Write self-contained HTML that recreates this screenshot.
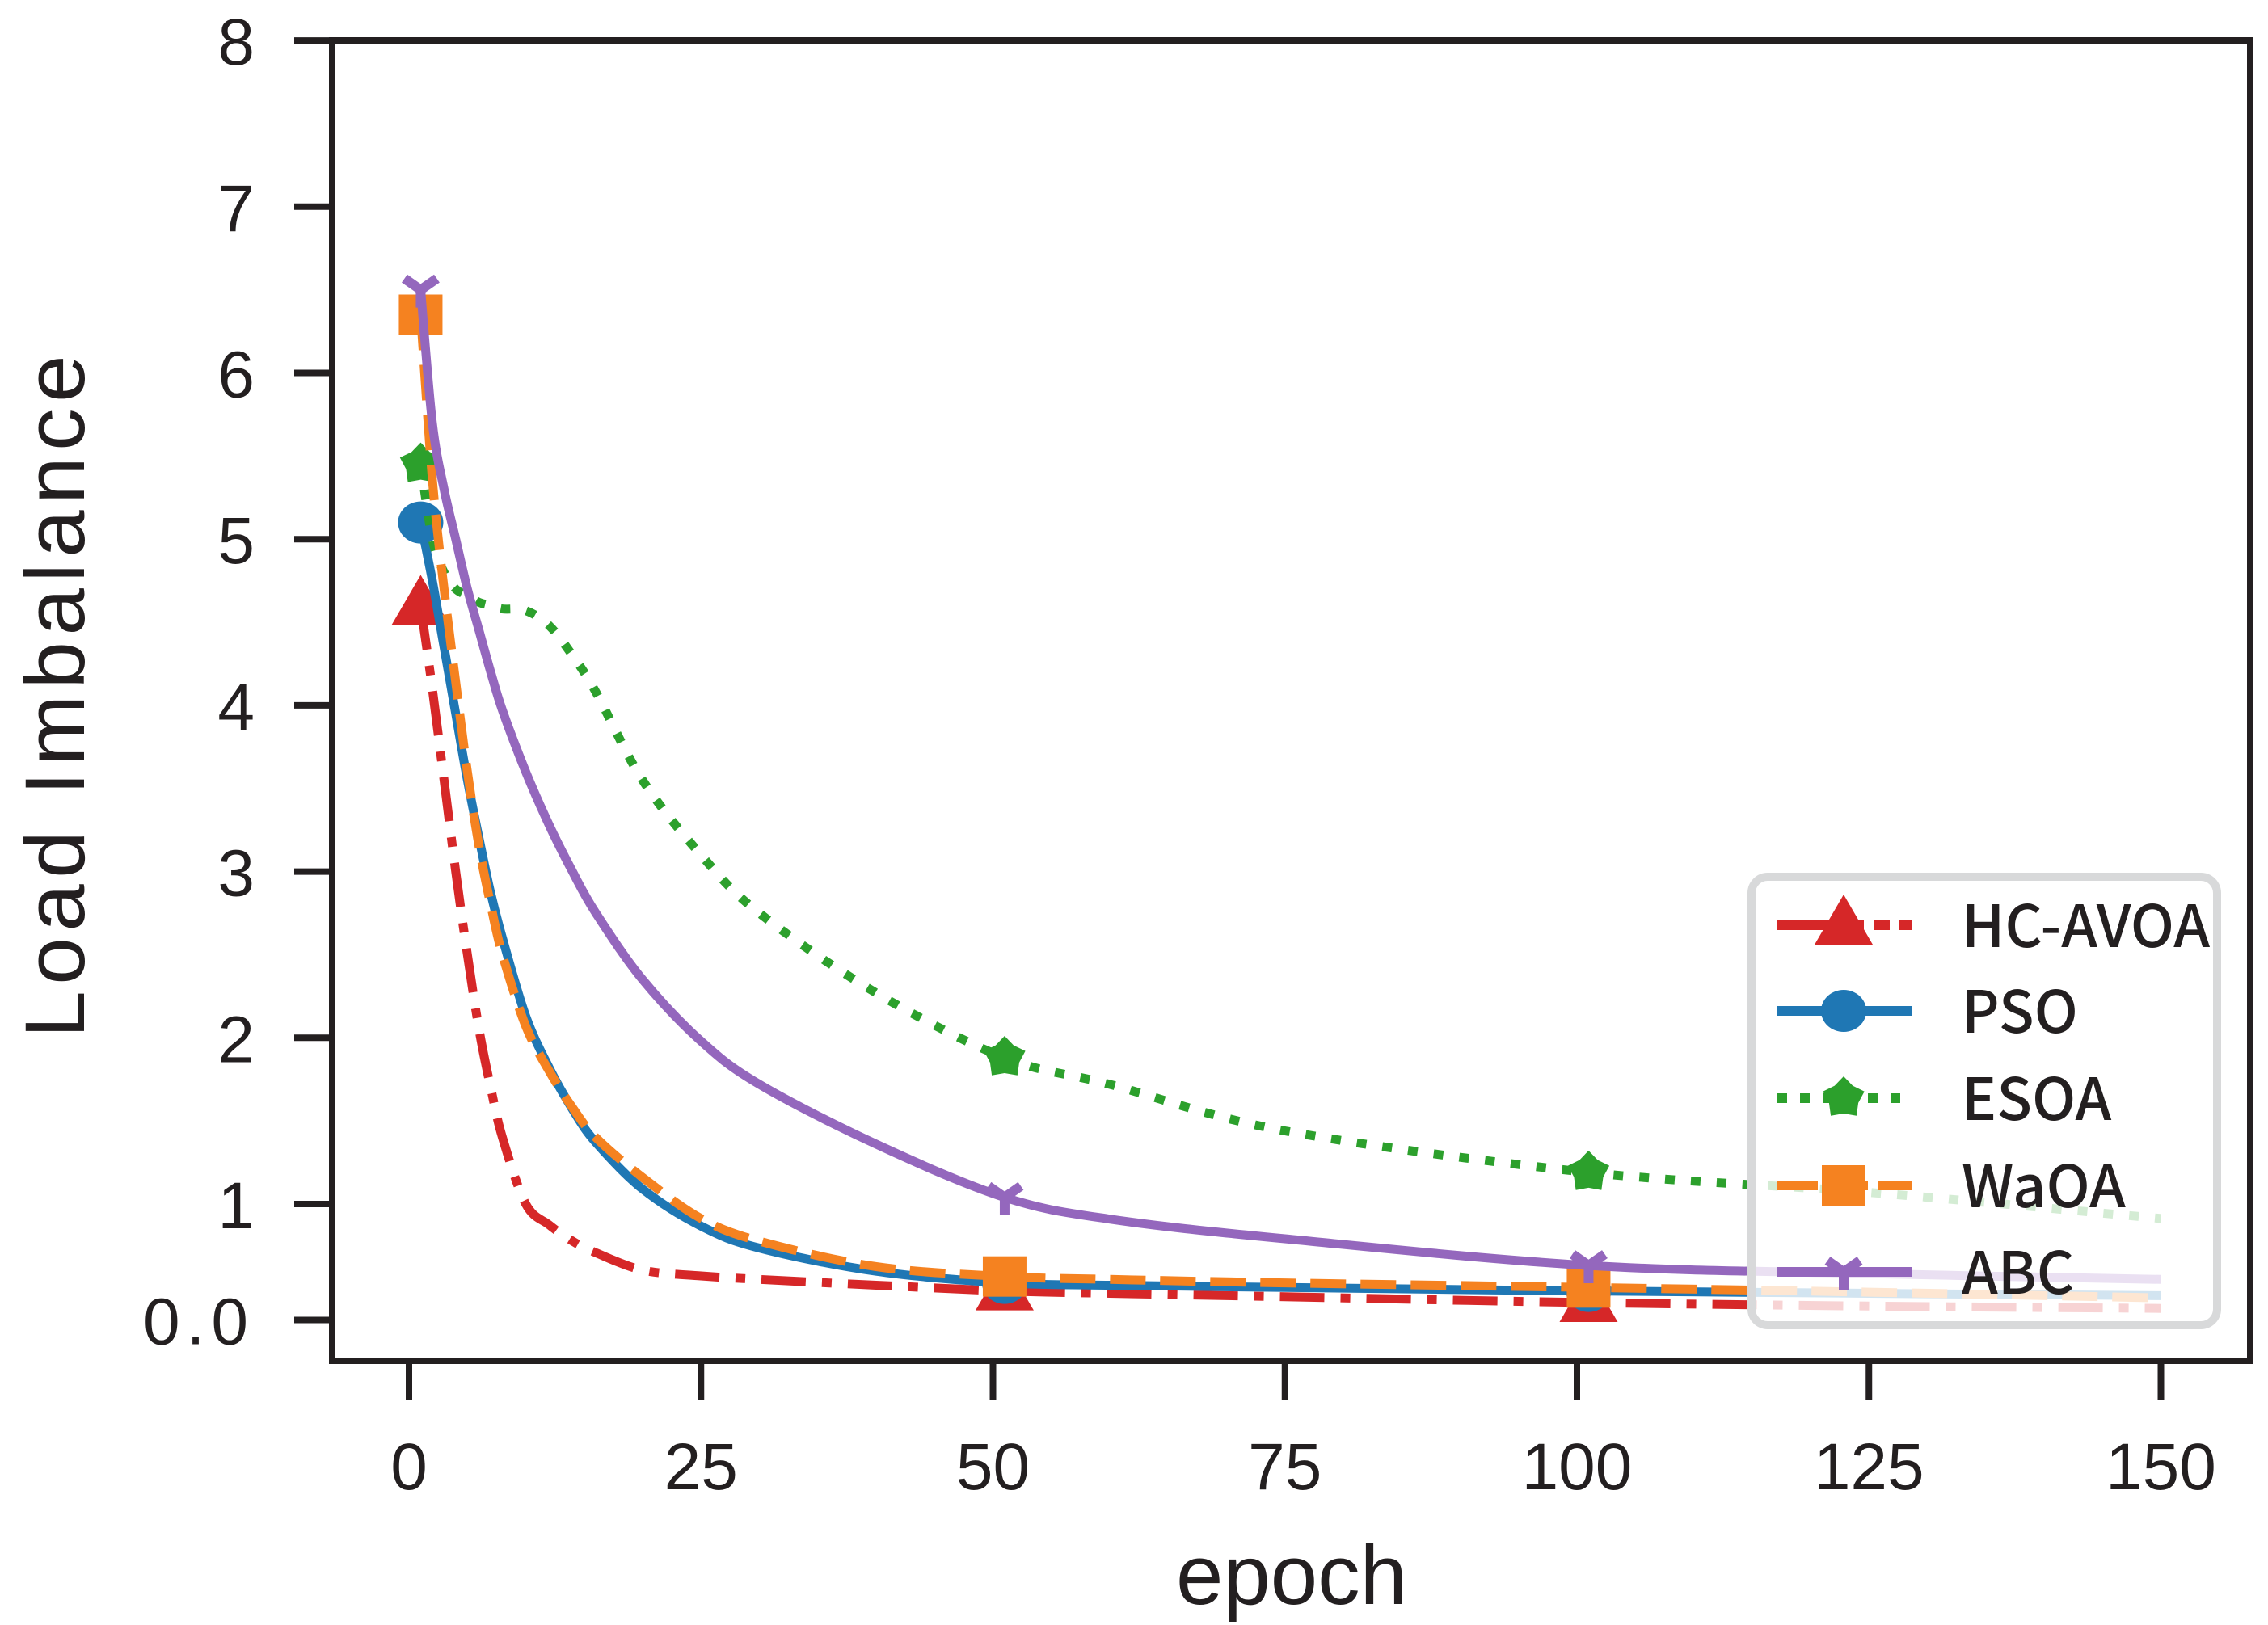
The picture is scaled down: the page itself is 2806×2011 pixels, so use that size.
<!DOCTYPE html>
<html><head><meta charset="utf-8"><style>
html,body{margin:0;padding:0;background:#fff;}
svg{display:block;}
text{font-family:"Liberation Sans","Noto Sans CJK SC",sans-serif;fill:#231f20;}
</style></head><body>
<svg id="chart" width="2806" height="2011" viewBox="0 0 2806 2011" xmlns="http://www.w3.org/2000/svg">
<rect width="2806" height="2011" fill="#fff"/>
<g id="plot"></g>
<g id="axes"></g>
<g id="legend"></g>
</svg>
<script>
const epochs = [1,2,3,4,5,6,7,8,10,12,14,16,20,25,30,40,51,60,75,101,125,150];
const hcavoa = [4.6,4.1,3.55,3.0,2.5,2.05,1.7,1.4,1.0,0.82,0.68,0.58,0.43,0.38,0.35,0.3,0.25,0.23,0.2,0.15,0.12,0.1];
const pso    = [5.1,4.75,4.35,3.95,3.55,3.2,2.87,2.6,2.13,1.82,1.57,1.37,1.09,0.81,0.62,0.42,0.32,0.3,0.28,0.25,0.23,0.21];
const esoa   = [5.45,5.0,4.8,4.7,4.66,4.62,4.6,4.58,4.57,4.48,4.3,4.08,3.55,3.1,2.75,2.27,1.88,1.72,1.44,1.19,1.07,0.875];
const waoa   = [6.35,5.36,4.7,4.14,3.6,3.15,2.8,2.5,2.07,1.8,1.58,1.4,1.16,0.875,0.68,0.46,0.375,0.35,0.32,0.28,0.24,0.19];
const abc    = [6.5,5.7,5.3,5.0,4.7,4.45,4.2,3.97,3.6,3.28,3.0,2.75,2.35,1.98,1.72,1.36,1.04,0.87,0.7,0.47,0.4,0.35];
const markerEpochs = [1,51,101];
const yTicks = [0,1,2,3,4,5,6,7,8];
const yTickLabels = ["0.0","1","2","3","4","5","6","7","8"];
const xTicks = [0,25,50,75,100,125,150];
const seriesNames = ["HC-AVOA","PSO","ESOA","WaOA","ABC"];

const NS="http://www.w3.org/2000/svg";
function X(e){return 506+e*14.45;}
function Y(v){return v>=1 ? 1490-(v-1)*205.7 : 1633.5-v*143.5;}
function mk(tag,attrs,parent){const el=document.createElementNS(NS,tag);for(const k in attrs)el.setAttribute(k,attrs[k]);parent.appendChild(el);return el;}
const plot=document.getElementById('plot'),axes=document.getElementById('axes'),legend=document.getElementById('legend');

const styles=[
 {vals:hcavoa,color:"#d62728",dash:"55 20 12 20",marker:"tri",name:"hc-avoa"},
 {vals:pso,color:"#1f77b4",dash:"",marker:"circle",name:"pso"},
 {vals:esoa,color:"#2ca02c",dash:"12 20",marker:"star",name:"esoa"},
 {vals:waoa,color:"#f58220",dash:"44 18",marker:"square",name:"waoa"},
 {vals:abc,color:"#9467bd",dash:"",marker:"tri_down",name:"abc"}
];
function marker(type,cx,cy,color,parent,nm){
  let el;
  if(type==="tri"){el=mk('polygon',{points:`${cx},${cy-38} ${cx-36},${cy+24} ${cx+36},${cy+24}`,fill:color},parent);}
  else if(type==="circle"){el=mk('ellipse',{cx:cx,cy:cy,rx:28,ry:26,fill:color},parent);}
  else if(type==="square"){el=mk('rect',{x:cx-27,y:cy-25,width:54,height:50,fill:color},parent);}
  else if(type==="star"){let p=[];for(let i=0;i<10;i++){const a=-Math.PI/2+i*Math.PI/5;const r=i%2?19:27;p.push((cx+r*Math.cos(a)).toFixed(1)+","+(cy+r*Math.sin(a)).toFixed(1));}el=mk('polygon',{points:p.join(' '),fill:color},parent);}
  else {el=mk('path',{d:`M${cx-20},${cy-14} L${cx},${cy} L${cx+20},${cy-14} M${cx},${cy} L${cx},${cy+22}`,stroke:color,"stroke-width":12,fill:"none"},parent);}
  
  
  return el;
}
function interp(vals,e){for(let i=0;i<epochs.length-1;i++){if(e>=epochs[i]&&e<=epochs[i+1]){const t=(e-epochs[i])/(epochs[i+1]-epochs[i]);return vals[i]+t*(vals[i+1]-vals[i]);}}return vals[vals.length-1];}
styles.forEach(s=>{
  const pts=epochs.map((e,i)=>[X(e),Y(s.vals[i])]);
  let d="M"+pts[0][0]+","+pts[0][1];
  for(let i=0;i<pts.length-1;i++){const p0=pts[Math.max(0,i-1)],p1=pts[i],p2=pts[i+1],p3=pts[Math.min(pts.length-1,i+2)];
    const c1=[p1[0]+(p2[0]-p0[0])/6,p1[1]+(p2[1]-p0[1])/6],c2=[p2[0]-(p3[0]-p1[0])/6,p2[1]-(p3[1]-p1[1])/6];
    d+=` C${c1[0].toFixed(1)},${c1[1].toFixed(1)} ${c2[0].toFixed(1)},${c2[1].toFixed(1)} ${p2[0].toFixed(1)},${p2[1].toFixed(1)}`;}
  const path=mk('path',{d:d,fill:"none",stroke:s.color,"stroke-width":s.name==="esoa"?11:11,"stroke-dasharray":s.dash},plot);
  
  
  markerEpochs.forEach(e=>marker(s.marker,X(e),Y(interp(s.vals,e)),s.color,plot,s.name+'-marker'));
});

const frame=mk('rect',{x:411,y:50,width:2373,height:1634,fill:"none",stroke:"#231f20","stroke-width":8},axes);


yTicks.forEach((v,i)=>{
  const t=mk('line',{x1:364,x2:411,y1:Y(v),y2:Y(v),stroke:"#231f20","stroke-width":8},axes);
  
  
  const l=mk('text',{x:315,y:Y(v)+30,"text-anchor":"end","font-size":82},axes);
  l.textContent=yTickLabels[i];
  if(v===0)l.setAttribute('letter-spacing','8');
  
  
});
xTicks.forEach(v=>{
  const t=mk('line',{x1:X(v),x2:X(v),y1:1684,y2:1733,stroke:"#231f20","stroke-width":8},axes);
  
  
  const l=mk('text',{x:X(v),y:1843,"text-anchor":"middle","font-size":82},axes);
  l.textContent=String(v);
  
  
});
const xt=mk('text',{x:1598,y:1985,"text-anchor":"middle","font-size":105},axes);
xt.textContent="epoch";


const yt=mk('text',{x:0,y:0,"text-anchor":"middle","font-size":105,transform:"translate(104,862) rotate(-90)",textLength:845,lengthAdjust:"spacing"},axes);
yt.textContent="Load Imbalance";



const lb=mk('rect',{x:2167,y:1085,width:576,height:555,rx:20,fill:"rgba(255,255,255,0.8)",stroke:"#d8d9da","stroke-width":10},legend);


const ly=[1145,1251,1359,1467,1574];
styles.forEach((s,i)=>{
  const g=mk('g',{},legend);
  
  
  const ln=mk('line',{x1:2199,x2:2366,y1:ly[i],y2:ly[i],stroke:s.color,"stroke-width":12,"stroke-dasharray":s.name==="hc-avoa"?"75 12 20 12 20 12":s.name==="esoa"?"12 16":s.name==="waoa"?"50 12":""},g);
  
  
  marker(s.marker,2281,ly[i],s.color,g,'legend-marker');
  const t=mk('text',{x:2427,y:ly[i]+27,"font-size":72,"font-weight":"500",style:'font-family:"Noto Sans CJK SC","Liberation Sans",sans-serif'},g);
  t.textContent=seriesNames[i];
  
  
});
</script>
</body></html>
